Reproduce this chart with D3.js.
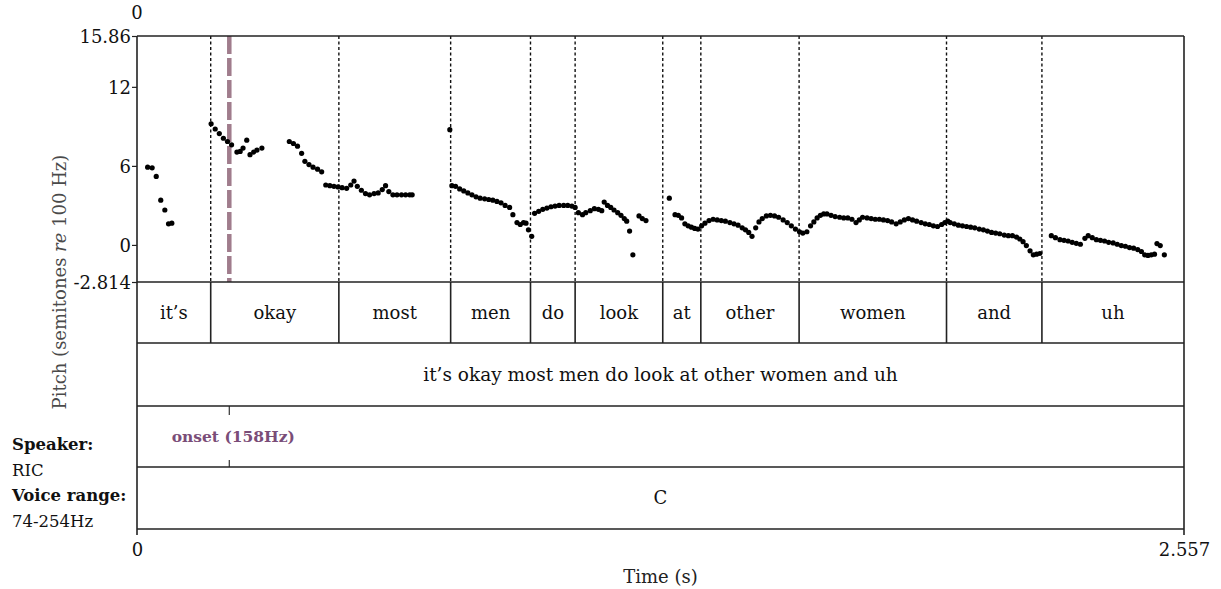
<!DOCTYPE html>
<html><head><meta charset="utf-8">
<script src="https://cdn.jsdelivr.net/npm/d3@7"></script>
<style>body{margin:0;background:#fff}svg{display:block}</style>
</head><body>
<script>
// ---- data ----
const timeDomain = [0, 2.557];
const pitchDomain = [-2.814, 15.86];
const pitchTicks = [15.86, 12, 6, 0, -2.814];
const pitchTickLabels = ["15.86", "12", "6", "0", "-2.814"];
const timeTicks = [0, 2.557];
const timeTickLabels = ["0", "2.557"];
const words = ["it’s","okay","most","men","do","look","at","other","women","and","uh"];
const wordBounds = [0, 0.180, 0.493, 0.766, 0.961, 1.070, 1.284, 1.377, 1.617, 1.977, 2.210, 2.557];
const sentence = "it’s okay most men do look at other women and uh";
const onsetTime = 0.2254;
const onsetLabel = "onset (158Hz)";
const rangeLabel = "C";
const speakerInfo = [["Speaker:", true], ["RIC", false], ["Voice range:", true], ["74-254Hz", false]];
// pitch track: [time (ms), semitones re 100 Hz]
const pitchMs = [
[26,5.9],[37,5.85],[47,5.2],[58,3.4],[68,2.65],[77,1.6],[85,1.65],
[181,9.2],[191,8.8],[201,8.45],[211,8.1],[221,7.85],[231,7.6],[244,7.05],[252,7.1],[259,7.35],[268,7.95],[276,6.85],[285,7.05],[293,7.2],[305,7.35],
[372,7.85],[382,7.7],[392,7.5],[402,6.95],[410,6.35],[420,6.1],[430,5.9],[441,5.75],[451,5.55],
[461,4.55],[471,4.5],[481,4.45],[491,4.4],[501,4.35],[512,4.3],[522,4.55],[530,4.85],[538,4.45],[548,4.15],[558,3.9],[568,3.8],[579,3.9],[589,3.95],[599,4.2],[607,4.5],[615,4.05],[625,3.8],[635,3.8],[646,3.8],[656,3.8],[666,3.8],[672,3.8],
[764,8.75],[769,4.5],[778,4.45],[788,4.25],[798,4.1],[808,3.95],[818,3.8],[828,3.65],[838,3.55],[849,3.5],[859,3.45],[869,3.4],[879,3.3],[889,3.2],[899,3.0],[910,2.85],[918,2.3],[928,1.7],[936,1.55],[944,1.7],[950,1.65],[956,1.15],[964,0.65],
[971,2.4],[981,2.55],[991,2.7],[1001,2.8],[1011,2.9],[1021,2.95],[1031,3.0],[1042,3.0],[1052,3.0],[1062,2.95],[1070,2.85],
[1078,2.45],[1088,2.3],[1096,2.45],[1107,2.6],[1117,2.75],[1127,2.7],[1135,2.6],[1141,3.25],[1149,3.0],[1157,2.85],[1165,2.65],[1174,2.45],[1182,2.25],[1190,2.0],[1196,1.8],[1203,1.05],[1211,-0.75],[1226,2.2],[1234,2.0],[1243,1.85],
[1300,3.55],[1314,2.3],[1322,2.25],[1330,2.05],[1338,1.6],[1346,1.45],[1354,1.35],[1362,1.25],[1370,1.2],
[1379,1.45],[1387,1.65],[1397,1.85],[1407,1.95],[1417,1.9],[1427,1.85],[1437,1.8],[1448,1.7],[1458,1.6],[1468,1.5],[1478,1.3],[1486,1.15],[1494,0.95],[1502,0.65],[1511,1.3],[1519,1.75],[1527,2.0],[1537,2.2],[1547,2.25],[1557,2.2],[1567,2.1],[1578,1.9],[1588,1.7],[1598,1.45],[1608,1.2],[1618,1.0],[1626,0.9],
[1636,1.0],[1645,1.45],[1653,1.75],[1661,2.05],[1669,2.25],[1677,2.35],[1685,2.35],[1695,2.25],[1705,2.15],[1716,2.1],[1726,2.05],[1736,2.05],[1746,1.95],[1756,1.7],[1764,1.9],[1772,2.1],[1783,2.05],[1793,2.0],[1803,1.95],[1813,1.95],[1823,1.9],[1833,1.85],[1843,1.75],[1854,1.6],[1864,1.75],[1874,1.9],[1884,2.0],[1894,1.9],[1904,1.8],[1915,1.7],[1925,1.6],[1935,1.55],[1945,1.45],[1955,1.4],[1965,1.55],[1973,1.7],[1980,1.8],
[1986,1.7],[1996,1.6],[2006,1.5],[2016,1.45],[2026,1.4],[2036,1.35],[2046,1.3],[2057,1.2],[2067,1.15],[2077,1.05],[2087,0.95],[2097,0.9],[2107,0.85],[2118,0.75],[2128,0.7],[2138,0.7],[2148,0.6],[2156,0.45],[2164,0.25],[2172,-0.05],[2181,-0.45],[2189,-0.75],[2197,-0.7],[2205,-0.65],
[2233,0.7],[2243,0.55],[2254,0.4],[2264,0.35],[2274,0.3],[2284,0.2],[2294,0.12],[2304,0.05],[2315,0.5],[2323,0.7],[2333,0.55],[2343,0.4],[2353,0.35],[2363,0.3],[2373,0.2],[2384,0.15],[2394,0.05],[2404,-0.05],[2414,-0.1],[2424,-0.2],[2434,-0.25],[2444,-0.35],[2453,-0.5],[2461,-0.75],[2469,-0.8],[2477,-0.75],[2485,-0.7],[2491,0.1],[2499,-0.05],[2509,-0.75]
];

// ---- layout ----
const W = 1221, H = 589;
const L = 137, R = 1184;
const tierY = [36, 282, 343, 406, 467, 529];
const serif = "'DejaVu Serif', serif";

const svg = d3.select("body").append("svg").attr("width", W).attr("height", H);
const x = d3.scaleLinear().domain(timeDomain).range([L, R]);
const y = d3.scaleLinear().domain(pitchDomain).range([tierY[1], tierY[0]]);

// word boundaries (dotted in pitch tier, solid in word tier)
const inner = wordBounds.slice(1, -1);
svg.append("g").selectAll("line").data(inner).join("line")
  .attr("x1", d => x(d)).attr("x2", d => x(d))
  .attr("y1", tierY[0]).attr("y2", tierY[1])
  .attr("stroke", "#111").attr("stroke-width", 1.4).attr("stroke-dasharray", "3,2.5");
svg.append("g").selectAll("line").data(inner).join("line")
  .attr("x1", d => x(d)).attr("x2", d => x(d))
  .attr("y1", tierY[1]).attr("y2", tierY[2])
  .attr("stroke", "#222").attr("stroke-width", 1.6);

// onset line
svg.append("line")
  .attr("x1", x(onsetTime)).attr("x2", x(onsetTime))
  .attr("y1", tierY[0]).attr("y2", tierY[1])
  .attr("stroke", "#a07c8c").attr("stroke-width", 4.5).attr("stroke-dasharray", "18,4");
svg.append("line").attr("x1", x(onsetTime)).attr("x2", x(onsetTime))
  .attr("y1", tierY[3]).attr("y2", tierY[3] + 9).attr("stroke", "#333").attr("stroke-width", 1.2);
svg.append("line").attr("x1", x(onsetTime)).attr("x2", x(onsetTime))
  .attr("y1", tierY[4] - 7).attr("y2", tierY[4]).attr("stroke", "#333").attr("stroke-width", 1.2);

// pitch points
svg.append("g").selectAll("circle").data(pitchMs).join("circle")
  .attr("cx", d => x(d[0] / 1000)).attr("cy", d => y(d[1]))
  .attr("r", 2.6).attr("fill", "#000");

// tier frame lines
svg.append("g").selectAll("line").data(tierY).join("line")
  .attr("x1", L).attr("x2", R).attr("y1", d => d).attr("y2", d => d)
  .attr("stroke", "#222").attr("stroke-width", 1.6);
svg.append("line").attr("x1", L).attr("x2", L).attr("y1", tierY[0]).attr("y2", tierY[5] + 6)
  .attr("stroke", "#222").attr("stroke-width", 1.6);
svg.append("line").attr("x1", R).attr("x2", R).attr("y1", tierY[0]).attr("y2", tierY[5] + 6)
  .attr("stroke", "#222").attr("stroke-width", 1.6);

// y axis ticks
const yAxis = d3.axisLeft(y).tickValues(pitchTicks).tickSize(5)
  .tickFormat((d, i) => pitchTickLabels[i]);
const gy = svg.append("g").attr("transform", `translate(${L},0)`).call(yAxis);
gy.select(".domain").remove();
gy.selectAll("line").attr("stroke", "#222").attr("stroke-width", 1.2);
gy.selectAll("text").attr("font-family", serif).attr("font-size", 18).attr("fill", "#111").attr("x", -6).attr("dy", "0.35em");

// x axis labels (bottom)
const xAxis = d3.axisBottom(x).tickValues(timeTicks).tickSize(0)
  .tickFormat((d, i) => timeTickLabels[i]);
const gx = svg.append("g").attr("transform", `translate(0,${tierY[5]})`).call(xAxis);
gx.select(".domain").remove();
gx.selectAll("text").attr("font-family", serif).attr("font-size", 18).attr("fill", "#111").attr("y", 14).attr("dy", "0.71em");
// top time label
svg.append("text").attr("x", x(timeTicks[0])).attr("y", 19).attr("text-anchor", "middle")
  .attr("font-family", serif).attr("font-size", 18).attr("fill", "#111").text(timeTickLabels[0]);

// axis titles
svg.append("text").attr("x", (L + R) / 2).attr("y", 583).attr("text-anchor", "middle")
  .attr("font-family", serif).attr("font-size", 18).attr("fill", "#222").text("Time (s)");
const yt = svg.append("text").attr("transform", "translate(66,282) rotate(-90)").attr("text-anchor", "middle")
  .attr("font-family", serif).attr("font-size", 18).attr("fill", "#4a4a4a");
yt.append("tspan").text("Pitch (semitones ");
yt.append("tspan").attr("font-style", "italic").text("re");
yt.append("tspan").text(" 100 Hz)");

// word labels
const mids = words.map((w, i) => ({ w, m: (wordBounds[i] + wordBounds[i + 1]) / 2 }));
svg.append("g").selectAll("text").data(mids).join("text")
  .attr("x", d => x(d.m)).attr("y", (tierY[1] + tierY[2]) / 2).attr("dy", "0.35em")
  .attr("text-anchor", "middle").attr("font-family", serif).attr("font-size", 18).attr("fill", "#111")
  .text(d => d.w);

// sentence
svg.append("text").attr("x", (L + R) / 2).attr("y", (tierY[2] + tierY[3]) / 2).attr("dy", "0.35em")
  .attr("text-anchor", "middle").attr("font-family", serif).attr("font-size", 18.5).attr("fill", "#111")
  .text(sentence);

// onset label
svg.append("text").attr("x", x(onsetTime) + 4).attr("y", (tierY[3] + tierY[4]) / 2).attr("dy", "0.35em")
  .attr("text-anchor", "middle").attr("font-family", serif).attr("font-size", 15.5).attr("font-weight", "bold")
  .attr("fill", "#7a4d78").text(onsetLabel);

// range label
svg.append("text").attr("x", (L + R) / 2).attr("y", (tierY[4] + tierY[5]) / 2).attr("dy", "0.35em")
  .attr("text-anchor", "middle").attr("font-family", serif).attr("font-size", 18).attr("fill", "#111")
  .text(rangeLabel);

// speaker info
svg.append("g").selectAll("text").data(speakerInfo).join("text")
  .attr("x", 12).attr("y", (d, i) => 450 + i * 25.5)
  .attr("font-family", serif).attr("font-size", 16.5)
  .attr("font-weight", d => d[1] ? "bold" : "normal").attr("fill", "#111")
  .text(d => d[0]);
</script>
</body></html>
